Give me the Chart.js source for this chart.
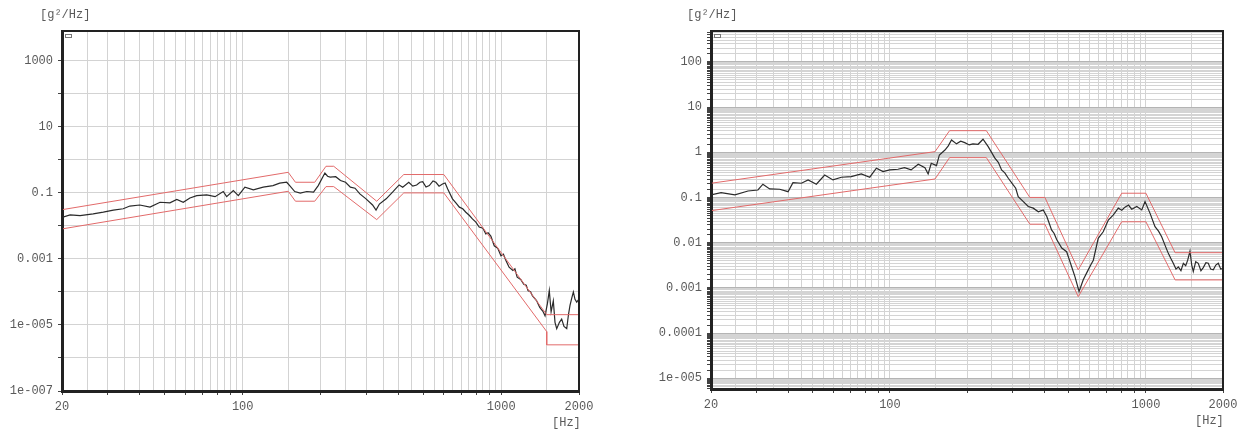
<!DOCTYPE html>
<html><head><meta charset="utf-8">
<script src="https://cdn.jsdelivr.net/npm/chart.js@4.4.1/dist/chart.umd.min.js"></script>
<style>
html,body{margin:0;padding:0;background:#fff;}
body{width:1245px;height:432px;overflow:hidden;position:relative;}
.box{position:absolute;top:0;height:432px;}
.unit{position:absolute;font:12px "Liberation Mono",monospace;color:#5a5a5a;white-space:nowrap;}
</style></head><body>
<div class="box" style="left:0;width:600px"><canvas id="c1"></canvas></div>
<div class="box" style="left:640px;width:605px"><canvas id="c2"></canvas></div>
<div class="unit" style="left:40px;top:8px">[g²/Hz]</div>
<div class="unit" style="left:687px;top:8px">[g²/Hz]</div>
<div class="unit" style="left:552px;top:416px">[Hz]</div>
<div class="unit" style="left:1195px;top:414px">[Hz]</div>
<script>
// ---------- Chart 1 (left) ----------
const freq1 = [20,21.5,23.5,26.4,28.9,31.6,34.5,36.6,40,43.8,47.9,52.3,55.6,58.9,62.5,66.4,72.6,78.2,84.1,86.7,92,96.2,102,110,120,131,139,148,152,159,167,177,188,196,208,213,218,229,239,250,261,272,284,300,318,328,338,359,380,403,416,439,455,471,485,497,512,527,545,559,575,593,607,621,648,668,689,710,730,752,774,798,822,850,872,890,912,940,970,998,1020,1040,1073,1110,1130,1153,1190,1223,1250,1270,1300,1320,1370,1410,1450,1478,1510,1535,1560,1591,1615,1640,1680,1714,1750,1793,1820,1846,1875,1902,1930,1960,2000];
const psd1 = [0.018,0.0215,0.0205,0.023,0.026,0.030,0.033,0.040,0.043,0.037,0.052,0.050,0.063,0.052,0.07,0.083,0.087,0.077,0.11,0.077,0.117,0.083,0.149,0.123,0.149,0.166,0.197,0.21,0.166,0.11,0.098,0.11,0.105,0.166,0.40,0.32,0.30,0.31,0.236,0.21,0.149,0.139,0.093,0.066,0.043,0.030,0.046,0.066,0.105,0.174,0.149,0.21,0.16,0.174,0.21,0.22,0.15,0.166,0.23,0.21,0.16,0.187,0.2,0.132,0.066,0.05,0.037,0.033,0.026,0.021,0.0163,0.013,0.0092,0.0085,0.0057,0.0062,0.0049,0.0025,0.0021,0.00125,0.0014,0.00095,0.00056,0.00045,0.0005,0.00028,0.00024,0.00017,0.00016,0.00011,0.0001,7.7e-5,5.5e-5,3.4e-5,2.6e-5,1.9e-5,4.5e-5,1.1e-4,2.5e-5,5.4e-5,1.2e-5,7.7e-6,1.2e-5,1.5e-5,9e-6,7.7e-6,2e-5,3.9e-5,6.5e-5,1.0e-4,6e-5,4.9e-5,6.1e-5];
const upF1 = [20,150,160,190,210,225,330,420,600,1500,2000,2000];
const upV1 = [0.031,0.42,0.21,0.21,0.64,0.64,0.056,0.36,0.36,2.05e-5,2.05e-5,2.5e-6];
const loF1 = [20,20,150,160,190,210,225,330,420,600,1500,1500,2000];
const loV1 = [0.00132,0.0081,0.112,0.056,0.056,0.155,0.155,0.0155,0.1,0.1,6.3e-6,2.5e-6,2.5e-6];
const yLabelVals1 = [1000,10,0.1,0.001,1e-5,1e-7];
const yLabelText1 = ['1000','10','0.1','0.001','1e-005','1e-007'];

// ---------- Chart 2 (right) ----------
const freq2 = [20,21.9,24.8,27.9,30.5,31.9,33.9,37.1,40,41.8,45.1,47.9,51.6,55.6,59.9,64.6,70.6,77.3,83.4,88.5,94,99.8,107.5,114,121,129,137,141,145,152,156,164,169,174,182,189,196,204,211,221,231,242,257,265,273,281,290,303,310,317,332,347,363,380,397,410,428,438,448,469,490,500,513,528,548,569,595,610,623,651,681,713,746,780,805,828,855,880,921,963,992,1037,1085,1120,1152,1190,1223,1250,1279,1310,1338,1370,1400,1430,1456,1486,1510,1531,1565,1601,1640,1675,1715,1752,1790,1833,1875,1917,1960,2000];
const psd2 = [0.114,0.128,0.114,0.139,0.146,0.196,0.154,0.152,0.134,0.213,0.206,0.244,0.196,0.314,0.244,0.28,0.288,0.331,0.28,0.443,0.372,0.406,0.42,0.457,0.406,0.543,0.457,0.331,0.57,0.505,0.87,1.12,1.38,1.87,1.53,1.75,1.63,1.45,1.53,1.50,1.94,1.33,0.74,0.6,0.406,0.35,0.266,0.189,0.16,0.104,0.081,0.063,0.058,0.048,0.053,0.038,0.0191,0.016,0.0117,0.0076,0.0063,0.0045,0.0029,0.00177,0.00083,0.00151,0.0025,0.0033,0.0041,0.0125,0.0174,0.0316,0.041,0.058,0.052,0.061,0.068,0.055,0.063,0.053,0.081,0.045,0.0226,0.018,0.0135,0.0085,0.0058,0.0045,0.0035,0.0026,0.0029,0.0024,0.0035,0.0031,0.0041,0.0065,0.0032,0.0023,0.0038,0.0035,0.0024,0.0028,0.0036,0.0035,0.0026,0.0025,0.0032,0.0035,0.0026,0.0027];
const upF2 = [20,150,171,238,352,403,544,804,1000,1300,2000];
const upV2 = [0.206,1.03,3.0,3.0,0.1,0.1,0.0025,0.124,0.124,0.006,0.006];
const loF2 = [20,20,150,171,238,352,403,544,804,1000,1300,2000,2000];
const loV2 = [0.0069,0.051,0.256,0.76,0.76,0.0256,0.0256,0.00064,0.029,0.029,0.0015,0.0015,1e-9];
const yLabelVals2 = [100,10,1,0.1,0.01,0.001,0.0001,1e-5];
const yLabelText2 = ['100','10','1','0.1','0.01','0.001','0.0001','1e-005'];

const xLabelVals = [20,100,1000,2000];
const xLabelText = ['20','100','1000','2000'];

// grid positions: k * 10^n with k = 1, 1.5, ... 9.5
function gridVals(min, max, decadesOnly){
  const out=[];
  for(let n=-9;n<=4;n++){
    const ks = decadesOnly ? [1] : [1,1.5,2,2.5,3,3.5,4,4.5,5,5.5,6,6.5,7,7.5,8,8.5,9,9.5];
    for(const k of ks){
      const v = parseFloat((k*Math.pow(10,n)).toPrecision(6));
      if(v>=min*0.9999 && v<=max*1.0001) out.push(v);
    }
  }
  return out;
}
const same=(a,b)=>Math.abs(Math.log10(a)-Math.log10(b))<1e-6;
const isDecade=v=>Math.abs(Math.log10(v)-Math.round(Math.log10(v)))<1e-6;
const isInt=v=>{const e=Math.floor(Math.log10(v)+1e-9);const k=v/Math.pow(10,e);return Math.abs(k-Math.round(k))<1e-6;};
const pts=(xs,ys)=>xs.map((x,i)=>({x:x,y:ys[i]}));

const framePlugin={id:'frame',afterDraw(chart){
  const {ctx,chartArea:a}=chart; ctx.save();
  ctx.strokeStyle='#222'; ctx.lineWidth=2;
  ctx.strokeRect(a.left,a.top,a.right-a.left,a.bottom-a.top);
  ctx.strokeStyle='#777'; ctx.lineWidth=1;
  ctx.strokeRect(a.left+3.5,a.top+3.5,6,3);
  ctx.restore();
}};

function build(id,o){
  const xg=gridVals(20,2000,false);
  const yg=gridVals(o.yMin,o.yMax,o.yDecadesOnly);
  return new Chart(document.getElementById(id),{
    type:'line',
    data:{datasets:[
      {data:pts(o.upF,o.upV),borderColor:'#e26a6a',borderWidth:1,pointRadius:0,tension:0},
      {data:pts(o.loF,o.loV),borderColor:'#e26a6a',borderWidth:1,pointRadius:0,tension:0},
      {data:pts(o.f,o.v),borderColor:'#2a2a2a',borderWidth:1.2,pointRadius:0,tension:0}
    ]},
    options:{
      responsive:true,maintainAspectRatio:false,animation:false,
      layout:{padding:{left:0,right:o.padR,top:31,bottom:0}},
      plugins:{legend:{display:false},tooltip:{enabled:false}},
      scales:{
        x:{type:'logarithmic',min:20,max:2000,
          afterBuildTicks:s=>{s.ticks=xg.map(v=>({value:v}));},
          afterFit:s=>{s.height=o.xH;},
          ticks:{autoSkip:false,maxRotation:0,padding:5,color:'#5a5a5a',font:{family:'Liberation Mono',size:12},
            callback:(v)=>{const i=xLabelVals.findIndex(l=>same(l,v));return i>=0?xLabelText[i]:'';}},
          grid:{color:'#d3d3d3',lineWidth:1,tickLength:4,tickColor:c=>isInt(c.tick.value)?'#444':'rgba(0,0,0,0)'},
          border:{display:true,color:'#222',width:3}
        },
        y:{type:'logarithmic',min:o.yMin,max:o.yMax,
          afterBuildTicks:s=>{s.ticks=yg.map(v=>({value:v}));},
          afterFit:s=>{s.width=o.yW;},
          ticks:{autoSkip:false,padding:5,color:'#5a5a5a',font:{family:'Liberation Mono',size:12},
            callback:(v)=>{const i=o.yLV.findIndex(l=>same(l,v));return i>=0?o.yLT[i]:'';}},
          grid:{color:c=>isDecade(c.tick.value)?o.decCol:o.minCol,lineWidth:1,tickLength:4,tickColor:'#444'},
          border:{display:true,color:'#222',width:3}
        }
      }
    },
    plugins:[framePlugin]
  });
}

build('c1',{f:freq1,v:psd1,upF:upF1,upV:upV1,loF:loF1,loV:loV1,yMin:1e-7,yMax:8000,yDecadesOnly:true,
  yLV:yLabelVals1,yLT:yLabelText1,yW:62,padR:21,xH:41,decCol:'#d3d3d3',minCol:'#e4e4e4'});
build('c2',{f:freq2,v:psd2,upF:upF2,upV:upV2,loF:loF2,loV:loV2,yMin:5.8e-6,yMax:480,yDecadesOnly:false,
  yLV:yLabelVals2,yLT:yLabelText2,yW:71,padR:22,xH:43,decCol:'#b4b4b4',minCol:'#d4d4d4'});
</script>
</body></html>
